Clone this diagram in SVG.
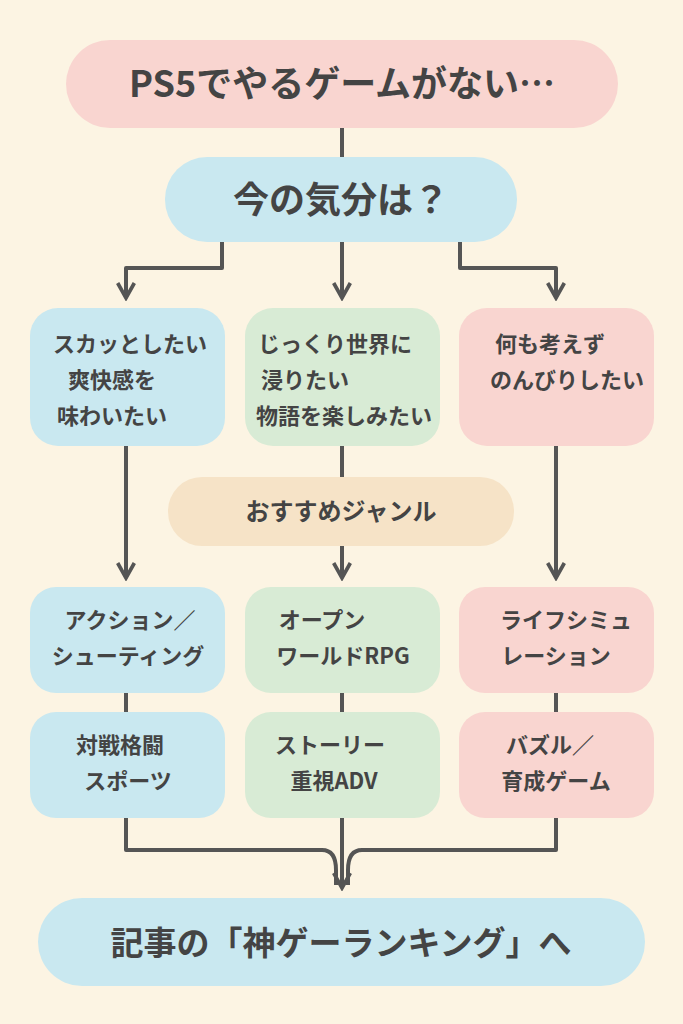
<svg xmlns="http://www.w3.org/2000/svg" width="683" height="1024" viewBox="0 0 683 1024">
<defs>
<marker id="ah" viewBox="0 0 12 12" refX="10" refY="6" markerWidth="5" markerHeight="5" orient="auto" markerUnits="strokeWidth"><path d="M1,1 L10,6 L1,11" fill="none" stroke="#555" stroke-width="2.2"/></marker>
<style>
text{font-family:"Noto Sans CJK JP","Noto Sans",sans-serif;fill:#444;text-anchor:middle;font-weight:bold}
.c{fill:none;stroke:#555;stroke-width:4;stroke-linejoin:round}
.b{fill:#c9e8f0}.g{fill:#d8ebd5}.p{fill:#f9d5d0}.o{fill:#f6e3c7}
.t{font-size:22px}.h{font-size:36px}
</style>
</defs>
<rect width="683" height="1024" fill="#fcf4e3"/>
<g id="connectors">
<path class="c" d="M342,128V157"/>
<path class="c" d="M222,242V268H126V298" marker-end="url(#ah)"/>
<path class="c" d="M342,242V298" marker-end="url(#ah)"/>
<path class="c" d="M460,242V268H556V298" marker-end="url(#ah)"/>
<path class="c" d="M126,446V578" marker-end="url(#ah)"/>
<path class="c" d="M342,446V477M342,546V578" marker-end="url(#ah)"/>
<path class="c" d="M556,446V578" marker-end="url(#ah)"/>
<path class="c" d="M126,693V712M342,693V712M556,693V712"/>
<path class="c" d="M126,818V850H322Q336,850 336,870V885"/>
<path class="c" d="M556,818V850H362Q348,850 348,870V885"/>
<path class="c" d="M342,818V888" marker-end="url(#ah)"/>
</g>
<g id="n0"><rect class="p" x="66" y="40" width="552" height="88" rx="44"/><text class="h" x="342" y="97">PS5でやるゲームがない…</text></g>
<g id="n1"><rect class="b" x="165" y="157" width="352" height="85" rx="42"/><text class="h" x="341" y="213">今の気分は？</text></g>
<g id="n2"><rect class="b" x="30" y="308" width="195" height="138" rx="28"/><text class="t" x="130" y="352">スカッとしたい</text><text class="t" x="112" y="388">爽快感を</text><text class="t" x="112" y="424">味わいたい</text></g>
<g id="n3"><rect class="g" x="245" y="308" width="195" height="138" rx="28"/><text class="t" x="335" y="352">じっくり世界に</text><text class="t" x="305" y="388">浸りたい</text><text class="t" x="344" y="424">物語を楽しみたい</text></g>
<g id="n4"><rect class="p" x="459" y="308" width="195" height="138" rx="28"/><text class="t" x="550" y="352">何も考えず</text><text class="t" x="567" y="388">のんびりしたい</text></g>
<g id="n5"><rect class="o" x="168" y="477" width="346" height="69" rx="34"/><text class="t" x="341" y="520" style="font-size:24px">おすすめジャンル</text></g>
<g id="n6"><rect class="b" x="30" y="587" width="195" height="106" rx="26"/><text class="t" x="130" y="628">アクション／</text><text class="t" x="128" y="664">シューティング</text></g>
<g id="n7"><rect class="g" x="245" y="587" width="195" height="106" rx="26"/><text class="t" x="322" y="628">オープン</text><text class="t" x="343" y="664">ワールドRPG</text></g>
<g id="n8"><rect class="p" x="459" y="587" width="195" height="106" rx="26"/><text class="t" x="566" y="628">ライフシミュ</text><text class="t" x="556" y="664">レーション</text></g>
<g id="n9"><rect class="b" x="30" y="712" width="195" height="106" rx="26"/><text class="t" x="120" y="753">対戦格闘</text><text class="t" x="128" y="789">スポーツ</text></g>
<g id="n10"><rect class="g" x="245" y="712" width="195" height="106" rx="26"/><text class="t" x="330" y="753">ストーリー</text><text class="t" x="334" y="789">重視ADV</text></g>
<g id="n11"><rect class="p" x="459" y="712" width="195" height="106" rx="26"/><text class="t" x="550" y="753">バズル／</text><text class="t" x="556" y="789">育成ゲーム</text></g>
<g id="n12"><rect class="b" x="38" y="898" width="607" height="88" rx="44"/><text x="341" y="955" style="font-size:33px">記事の「神ゲーランキング」へ</text></g>
</svg>
